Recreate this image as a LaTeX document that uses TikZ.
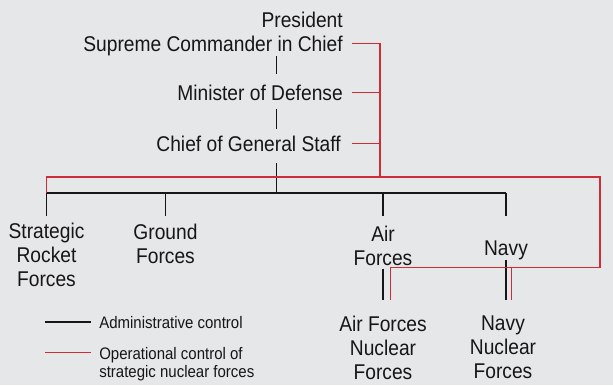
\documentclass[tikz,border=0pt]{standalone}
\usepackage{fontspec}
\setmainfont[FakeStretch=0.9]{Liberation Sans}
\usepackage{tikz}
\usetikzlibrary{positioning, calc}
\definecolor{paper}{HTML}{E6E7E9}
\definecolor{opred}{RGB}{206,44,54}
\definecolor{ink}{HTML}{161616}
\newcommand{\unitfont}{\fontsize{16}{18}\selectfont}
\newcommand{\keyfont}{\fontsize{12.5}{13.5}\selectfont}

\begin{document}
\begin{tikzpicture}[x=0.75pt, y=-0.75pt, text=ink]
    \tikzset{
        post/.style={inner sep=0pt, font=\unitfont, align=right},
        unit/.style={inner sep=0pt, font=\unitfont, align=center, anchor=north},
        keytext/.style={inner sep=0pt, font=\keyfont, align=left, anchor=north west},
        admin/.style={draw=ink, line width=1pt},
        oper/.style={draw=opred, line width=1pt},
    }
    \fill[paper] (0,0) rectangle (613,385);
    \useasboundingbox (0,0) rectangle (613,385);

    \node[post, anchor=north east] (pres) at (343,11.6) {President\\Supreme Commander in Chief};
    \node[post, anchor=north east] (mindef) at (343,84.3) {Minister of Defense};
    \node[post, anchor=north east] (cgs) at (341,135.3) {Chief of General Staff};

    \node[unit] (srf) at (46.5,222.3) {Strategic\\Rocket\\Forces};
    \node[unit] (ground) at (165.5,224) {Ground\\Forces};
    \node[unit] (air) at (383,225.3) {Air\\Forces};
    \node[unit] (navy) at (506,240.3) {Navy};
    \node[unit] (airnuc) at (383,315.6) {Air Forces\\Nuclear\\Forces};
    \node[unit] (navynuc) at (503,315.6) {Navy\\Nuclear\\Forces};

    \node[keytext] (keyadm) at (99,315.7) {Administrative control};
    \node[keytext] (keyop) at (99,346.7) {Operational control of\\strategic nuclear forces};

    \coordinate (trunk) at (276.6,193);
    \coordinate (stubend) at (0,216);
    \coordinate (spine) at (380,177);
    \coordinate (rim) at (600,267.7);
    \coordinate (airop) at (390.6,300);
    \coordinate (navyop) at (511.7,300);

    % administrative chain
    \draw[admin, shorten >=7.5pt] (pres.south -| trunk) -- (mindef.north -| trunk);
    \draw[admin, shorten <=6.2pt, shorten >=4.7pt] (mindef.south -| trunk) -- (cgs.north -| trunk);
    \draw[admin, shorten <=8.5pt] (cgs.south -| trunk) -- (trunk);
    \draw[admin] (srf.north |- trunk) -- (navy.north |- trunk);
    \foreach \u in {srf, ground, air, navy}
        \draw[admin] (\u.north |- trunk) -- (\u.north |- stubend);
    \draw[admin, shorten <=2.5pt, shorten >=11.7pt] (air.south) -- (airnuc.north);
    \draw[admin, shorten >=11.7pt] (navy.south) -- (navy.south |- navynuc.north);

    % operational chain
    \draw[oper] ([xshift=6.5pt, yshift=9.4pt]pres.south east) -| (spine);
    \draw[oper] ([xshift=6.5pt]mindef.east) -- (mindef.east -| spine);
    \draw[oper] ([xshift=8pt]cgs.east) -- (cgs.east -| spine);
    \draw[oper] (srf.north |- trunk) |- (rim |- spine) -- (rim) -| (airop);
    \draw[oper] (navyop |- rim) -- (navyop);

    % key
    \draw[admin] ([xshift=-40.5pt]keyadm.west) -- ([xshift=-6.3pt]keyadm.west);
    \draw[oper] ([xshift=-40.5pt, yshift=-4.5pt]keyop.north west) -- ([xshift=-6.3pt, yshift=-4.5pt]keyop.north west);
\end{tikzpicture}
\end{document}
